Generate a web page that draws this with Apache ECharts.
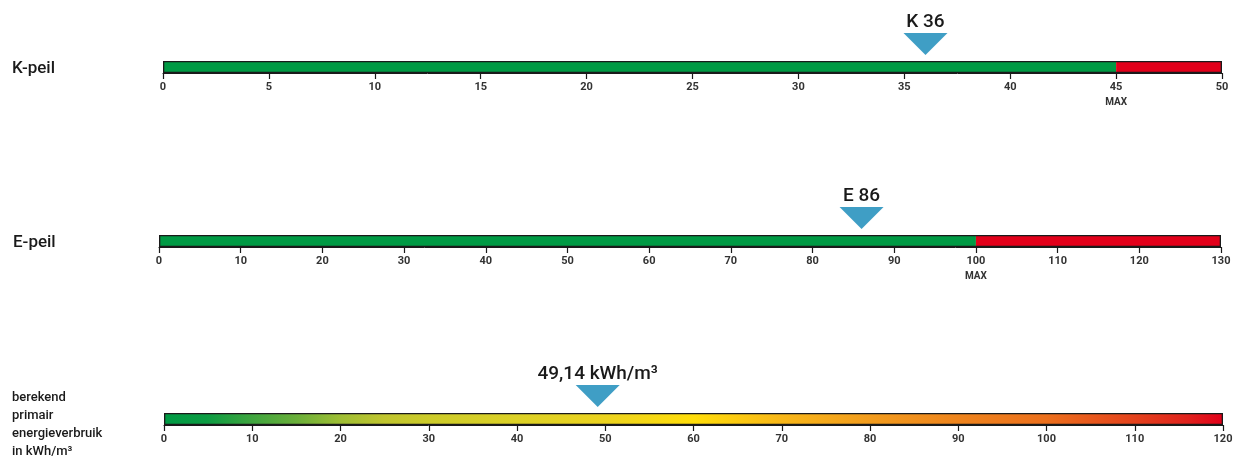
<!DOCTYPE html>
<html><head><meta charset="utf-8">
<script src="https://cdn.jsdelivr.net/npm/echarts@6/dist/echarts.min.js"></script>
<style>html,body{margin:0;padding:0;background:#fff}#c{width:1238px;height:459px}</style>
</head><body><div id="c"></div>
<script>
// Data
const kValue = 36, kMax = 45, kEnd = 50, kInterval = 5;
const eValue = 86, eMax = 100, eEnd = 130, eInterval = 10;
const pValue = 49.14, pEnd = 120, pInterval = 10;
const kLabel = 'K 36';
const eLabel = 'E 86';
const pLabel = '49,14 kWh/m³';
const rowTitles = ['K-peil', 'E-peil', 'berekend\nprimair\nenergieverbruik\nin kWh/m³'];
const maxText = 'MAX';

const FONT = 'Roboto, Liberation Sans, Arial, sans-serif';
const GREEN = '#009a44', RED = '#e2001a', BLUE = '#3f9ec5', INK = '#1a1a1a';

const grids = [
  {left: 163, right: 16, top: 61, height: 12},
  {left: 159, right: 17, top: 235, height: 12},
  {left: 164, right: 15, top: 413, height: 12}
];

function xAxisFor(i, end, interval, maxVal) {
  return {
    type: 'value', gridIndex: i, min: 0, max: end, interval: interval,
    splitLine: {show: false},
    axisLine: {show: true, lineStyle: {color: INK, width: 1}},
    axisTick: {show: true, length: 6, lineStyle: {color: INK, width: 1.2}},
    axisLabel: {
      margin: 9, fontSize: 11, fontWeight: 'bold', color: '#333', fontFamily: FONT,
      formatter: function (v) { return (maxVal !== null && v === maxVal) ? v + '\n{m|' + maxText + '}' : '' + v; },
      rich: {m: {fontSize: 10, fontWeight: 'bold', color: '#333', fontFamily: FONT, padding: [4, 0, 0, 0]}}
    }
  };
}
function yAxisFor(i) {
  return {type: 'category', gridIndex: i, data: ['v'], show: false};
}
function outline(i, end) {
  return {type: 'bar', xAxisIndex: i, yAxisIndex: i, data: [end], barWidth: 12, barGap: '-100%', z: 5, clip: false,
    itemStyle: {color: 'rgba(0,0,0,0)', borderColor: INK, borderWidth: 1.3}, silent: true};
}
function marker(i, value, text) {
  return {type: 'scatter', xAxisIndex: i, yAxisIndex: i, data: [[value, 0]], clip: false, z: 6,
    symbol: 'triangle', symbolRotate: 180, symbolSize: [44, 22], symbolOffset: [0, -23],
    itemStyle: {color: BLUE, opacity: 1},
    label: {show: true, position: 'top', distance: 1, formatter: text, fontSize: 19, fontWeight: 500, color: INK, fontFamily: FONT}};
}
const titleStyle = {fontSize: 17, fontWeight: 500, color: INK, fontFamily: FONT};

const option = {
  backgroundColor: '#fff',
  animation: false,
  title: [
    {text: rowTitles[0], left: 12, top: 60, padding: 0, textStyle: titleStyle},
    {text: rowTitles[1], left: 13, top: 234, padding: 0, textStyle: titleStyle},
    {text: rowTitles[2], left: 12, top: 389, padding: 0, textStyle: {fontSize: 13, fontWeight: 500, color: INK, lineHeight: 17.8, fontFamily: FONT}}
  ],
  grid: grids,
  xAxis: [xAxisFor(0, kEnd, kInterval, kMax), xAxisFor(1, eEnd, eInterval, eMax), xAxisFor(2, pEnd, pInterval, null)],
  yAxis: [yAxisFor(0), yAxisFor(1), yAxisFor(2)],
  series: [
    {type: 'bar', xAxisIndex: 0, yAxisIndex: 0, stack: 'k', data: [kMax], barWidth: 12, itemStyle: {color: GREEN}},
    {type: 'bar', xAxisIndex: 0, yAxisIndex: 0, stack: 'k', data: [kEnd - kMax], barWidth: 12, itemStyle: {color: RED}},
    outline(0, kEnd),
    marker(0, kValue, kLabel),
    {type: 'bar', xAxisIndex: 1, yAxisIndex: 1, stack: 'e', data: [eMax], barWidth: 12, itemStyle: {color: GREEN}},
    {type: 'bar', xAxisIndex: 1, yAxisIndex: 1, stack: 'e', data: [eEnd - eMax], barWidth: 12, itemStyle: {color: RED}},
    outline(1, eEnd),
    marker(1, eValue, eLabel),
    {type: 'bar', xAxisIndex: 2, yAxisIndex: 2, data: [pEnd], barWidth: 12,
      itemStyle: {color: new echarts.graphic.LinearGradient(0, 0, 1, 0, [
        {offset: 0, color: '#009a44'},
        {offset: 0.04, color: '#0c9c43'},
        {offset: 0.083, color: '#3fa53f'},
        {offset: 0.125, color: '#6aaf3a'},
        {offset: 0.167, color: '#9fbe34'},
        {offset: 0.208, color: '#c0c52f'},
        {offset: 0.25, color: '#cccb2a'},
        {offset: 0.333, color: '#dcd127'},
        {offset: 0.417, color: '#ecd31f'},
        {offset: 0.5, color: '#ffdd0a'},
        {offset: 0.583, color: '#f8b719'},
        {offset: 0.667, color: '#f29c1e'},
        {offset: 0.75, color: '#ee841d'},
        {offset: 0.833, color: '#ec701d'},
        {offset: 0.917, color: '#e4421d'},
        {offset: 0.967, color: '#e0221d'},
        {offset: 1, color: '#e2001a'}
      ])}},
    outline(2, pEnd),
    marker(2, pValue, pLabel)
  ]
};
echarts.init(document.getElementById('c')).setOption(option);
</script></body></html>
